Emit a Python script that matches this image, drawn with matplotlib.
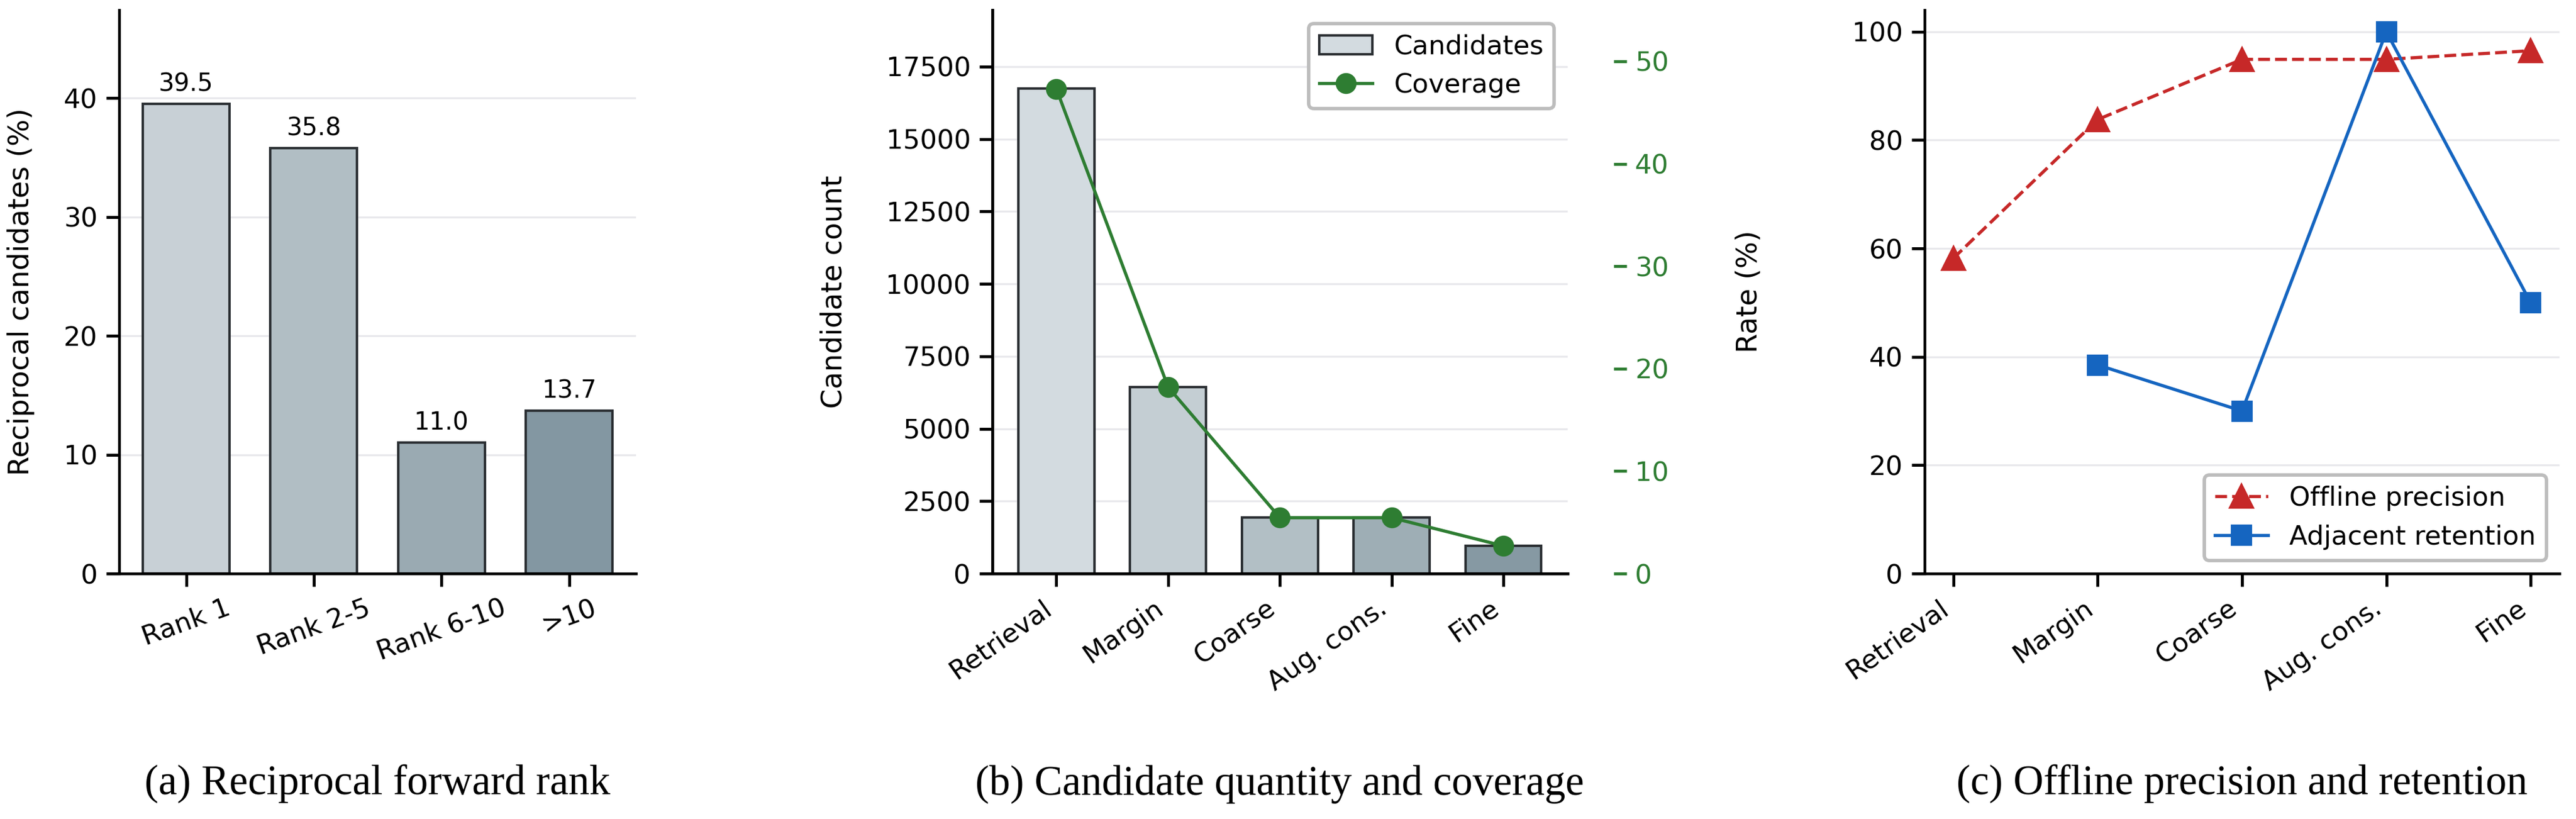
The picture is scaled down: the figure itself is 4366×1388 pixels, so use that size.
import numpy as np
import matplotlib.pyplot as plt

# данные панели (a)
rank_labels = ['Rank 1', 'Rank 2-5', 'Rank 6-10', '>10']
rank_share = [39.5, 35.8, 11.0, 13.7]
rank_colors = ['#c8d0d6', '#b1bec4', '#9aaab2', '#8397a2']

# данные панелей (b) и (c)
stages = ['Retrieval', 'Margin', 'Coarse', 'Aug. cons.', 'Fine']
candidates = [16750, 6440, 1930, 1930, 955]
coverage = [47.3, 18.2, 5.45, 5.45, 2.7]
stage_colors = ['#d3dbe0', '#c4ced3', '#b2bfc5', '#9eaeb5', '#8699a3']
precision = [58.2, 83.8, 94.9, 94.9, 96.5]
retention = [np.nan, 38.5, 30.0, 100.0, 50.0]

green = '#2e7d32'
red = '#c62828'
blue = '#1565c0'
edge = '#2b2f33'
grid_color = '#e8e8ec'

plt.rcParams['font.family'] = ['DejaVu Sans']
plt.rcParams['font.size'] = 10.8
plt.rcParams['axes.linewidth'] = 1.1
plt.rcParams['xtick.major.size'] = 5.3
plt.rcParams['ytick.major.size'] = 5.3
plt.rcParams['xtick.major.width'] = 1.2
plt.rcParams['ytick.major.width'] = 1.2
plt.rcParams['legend.edgecolor'] = '#bdbdbd'

fig = plt.figure(figsize=(4366 / 300, 1388 / 300), dpi=300)
ax_a = fig.add_axes([0.0463, 0.2997, 0.2006, 0.688])
ax_b = fig.add_axes([0.3852, 0.2997, 0.2233, 0.688])
ax_c = fig.add_axes([0.7471, 0.2997, 0.2465, 0.688])


def style_axes(ax):
    ax.spines['top'].set_visible(False)
    ax.spines['right'].set_visible(False)
    ax.set_axisbelow(True)
    ax.yaxis.grid(True, color=grid_color, linewidth=0.8)


# (a) обратный ранг
x_a = np.arange(len(rank_labels))
bars = ax_a.bar(x_a, rank_share, width=0.68, color=rank_colors, edgecolor=edge, linewidth=1.0)
for b, v in zip(bars, rank_share):
    ax_a.annotate(f'{v:.1f}', (b.get_x() + b.get_width() / 2, v), xytext=(0, 3),
                  textcoords='offset points', ha='center', va='bottom', fontsize=10)
ax_a.set_ylim(0, 47.4)
ax_a.set_xticks(x_a)
ax_a.set_xticklabels(rank_labels, rotation=20, ha='center')
ax_a.set_ylabel('Reciprocal candidates (%)', fontsize=11.5)
ax_a.yaxis.set_label_coords(-0.164, 0.5)
style_axes(ax_a)

# (b) количество кандидатов и покрытие
x_s = np.arange(len(stages))
ax_b.bar(x_s, candidates, width=0.68, color=stage_colors, edgecolor=edge, linewidth=1.0,
         label='Candidates')
ax_b.set_ylim(0, 19450)
ax_b.set_xticks(x_s)
ax_b.set_xticklabels(stages, rotation=35, ha='right')
ax_b.set_ylabel('Candidate count', fontsize=11.5)
ax_b.yaxis.set_label_coords(-0.252, 0.5)
style_axes(ax_b)

ax_b2 = ax_b.twinx()
ax_b2.plot(x_s, coverage, color=green, marker='o', markersize=7.5, linewidth=1.3, label='Coverage')
ax_b2.set_ylim(0, 55)
ax_b2.spines['right'].set_position(('outward', 18.7))
ax_b2.spines['right'].set_color('none')
ax_b2.spines['top'].set_visible(False)
ax_b2.tick_params(axis='y', colors=green)

h1, l1 = ax_b.get_legend_handles_labels()
h2, l2 = ax_b2.get_legend_handles_labels()
leg = ax_b2.legend(h1 + h2, l1 + l2, loc='upper right', framealpha=1.0)
leg.get_frame().set_linewidth(1.4)

# (c) точность и удержание
ax_c.plot(x_s, precision, color=red, linestyle='--', marker='^', markersize=9,
          linewidth=1.3, label='Offline precision')
ax_c.plot(x_s, retention, color=blue, linestyle='-', marker='s', markersize=7.5,
          linewidth=1.3, label='Adjacent retention')
ax_c.set_ylim(0, 104)
ax_c.set_xticks(x_s)
ax_c.set_xticklabels(stages, rotation=35, ha='right')
ax_c.set_ylabel('Rate (%)', fontsize=11.5)
ax_c.yaxis.set_label_coords(-0.2546, 0.5)
style_axes(ax_c)
leg = ax_c.legend(loc='lower right', framealpha=1.0)
leg.get_frame().set_linewidth(1.4)

# подписи под панелями
captions = ['(a) Reciprocal forward rank', '(b) Candidate quantity and coverage',
            '(c) Offline precision and retention']
for ax, cap in zip([ax_a, ax_b, ax_c], captions):
    pos = ax.get_position()
    fig.text((pos.x0 + pos.x1) / 2, 0.0295, cap, ha='center', va='baseline',
             fontsize=17, family='Liberation Serif')

fig.savefig('out.png', dpi=300)
